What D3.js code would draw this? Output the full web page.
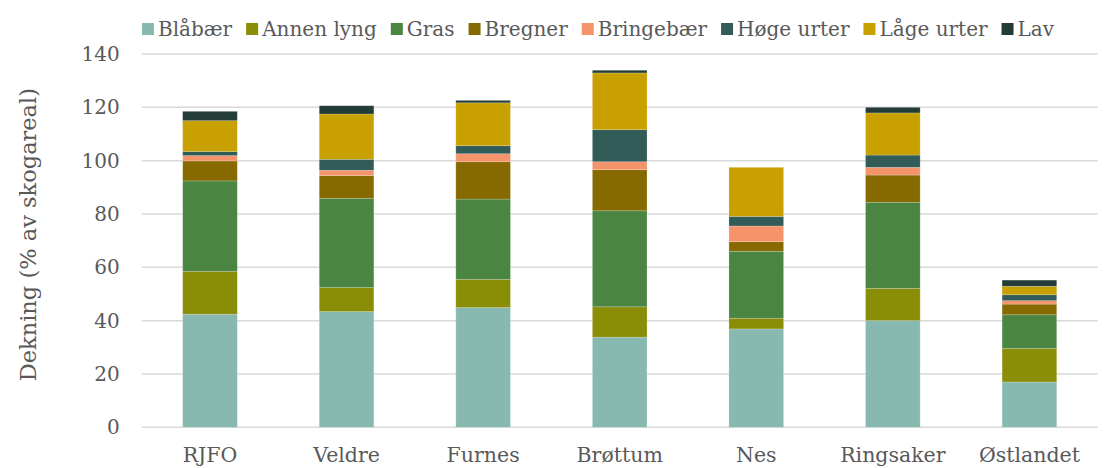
<!DOCTYPE html>
<html><head><meta charset="utf-8">
<script src="https://cdn.jsdelivr.net/npm/d3@7"></script>
<style>
body{margin:0;background:#fff;}
text{font-family:"DejaVu Serif",serif;fill:#595959;}
</style></head>
<body><svg id="c" width="1105" height="468"></svg>
<script>
const categories = ["RJFO","Veldre","Furnes","Brøttum","Nes","Ringsaker","Østlandet"];
const seriesNames = ["Blåbær","Annen lyng","Gras","Bregner","Bringebær","Høge urter","Låge urter","Lav"];
const blabaer    = [42.4, 43.4, 44.9, 33.8, 36.9, 40.0, 17.0];
const annenLyng  = [16.1,  9.0, 10.6, 11.4,  4.0, 12.1, 12.6];
const gras       = [33.9, 33.5, 30.1, 36.0, 25.1, 32.3, 12.6];
const bregner    = [ 7.5,  8.5, 14.0, 15.4,  3.6, 10.2,  4.0];
const bringebaer = [ 2.0,  2.0,  3.0,  3.0,  5.9,  2.9,  1.3];
const hogeUrter  = [ 1.5,  4.1,  3.0, 12.0,  3.6,  4.6,  2.2];
const lageUrter  = [11.6, 17.0, 16.1, 21.3, 18.4, 15.8,  3.2];
const lav        = [ 3.5,  3.1,  0.9,  1.0,  0.0,  2.1,  2.3];
const yTicks = [0,20,40,60,80,100,120,140];
const colors = ["#87b9b1","#8a8d06","#4a8642","#866a00","#f5946b","#325c57","#c8a000","#233c38"];

const seriesValues = [blabaer, annenLyng, gras, bregner, bringebaer, hogeUrter, lageUrter, lav];
const rows = categories.map((c,i)=>{const r={cat:c}; seriesNames.forEach((s,j)=>r[s]=seriesValues[j][i]); return r;});

const FS = 20;
const svg = d3.select("#c");
const m = {left:141.7, right:1105-1097.7, top:54, bottom:468-427.3};
const W = 1105, H = 468;
const x = d3.scaleBand().domain(categories).range([m.left, W-m.right]).paddingInner(0.6).paddingOuter(0.3);
const y = d3.scaleLinear().domain([0,140]).range([H-m.bottom, m.top]);

svg.append("g").selectAll("line").data(yTicks).join("line")
  .attr("x1", m.left).attr("x2", W-m.right)
  .attr("y1", d=>y(d)).attr("y2", d=>y(d))
  .attr("stroke", "#d9d9d9").attr("stroke-width", 1.5);

const yAxis = d3.axisLeft(y).tickValues(yTicks).tickSize(0).tickPadding(22);
const gy = svg.append("g").attr("transform", `translate(${m.left},0)`).call(yAxis);
gy.select(".domain").remove();
gy.selectAll("text").attr("font-size", FS).style("font-family","'DejaVu Serif',serif").attr("fill","#595959");

const stack = d3.stack().keys(seriesNames)(rows);
svg.append("g").selectAll("g").data(stack).join("g")
  .attr("fill", (d,i)=>colors[i])
  .selectAll("rect").data(d=>d).join("rect")
  .attr("x", d=>x(d.data.cat)).attr("width", x.bandwidth())
  .attr("y", d=>y(d[1])).attr("height", d=>Math.max(0, y(d[0])-y(d[1])))
  .attr("stroke", "rgba(255,255,255,0.25)").attr("stroke-width", 0.75);

const xAxis = d3.axisBottom(x).tickSize(0).tickPadding(20);
const gx = svg.append("g").attr("transform", `translate(0,${y(0)})`).call(xAxis);
gx.select(".domain").remove();
gx.selectAll("text").attr("font-size", 20.5).style("font-family","'DejaVu Serif',serif").attr("fill","#595959");

svg.append("text").attr("transform", `translate(36,${(y(0)+y(140))/2 - 6}) rotate(-90)`)
  .attr("text-anchor","middle").attr("font-size", 22.5).text("Dekning (% av skogareal)");

const lg = svg.append("g");
const items = lg.selectAll("g").data(seriesNames).join("g");
items.append("rect").attr("width", 12).attr("height", 12).attr("y", -6).attr("fill", (d,i)=>colors[i]);
items.append("text").attr("x", 16).attr("dy", "0.35em").attr("font-size", FS).text(d=>d);
let cx = 0;
items.each(function(){
  const g = d3.select(this);
  g.attr("transform", `translate(${cx},29)`);
  cx += 16 + g.select("text").node().getComputedTextLength() + 14;
});
const total = cx - 14;
lg.attr("transform", `translate(${598 - total/2},0)`);
</script></body></html>
